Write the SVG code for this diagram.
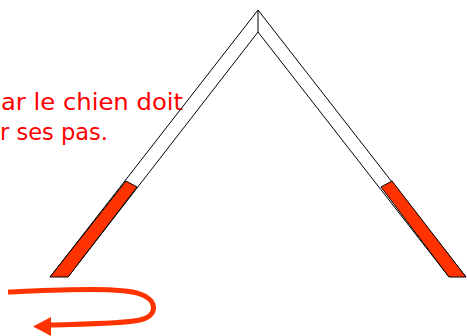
<svg xmlns="http://www.w3.org/2000/svg" width="467" height="336" viewBox="0 0 467 336">
<style>
.ln{fill:none;stroke:#000;stroke-width:1}
.red{fill:#FF3300;stroke:#000;stroke-width:1;stroke-linejoin:round}
.txt{fill:#FF0000;font-family:"Comic Sans MS","DejaVu Sans","Liberation Sans",sans-serif;font-size:23px}
</style>
<rect width="467" height="336" fill="#fff"/>
<g id="text">
<text class="txt" x="1" y="110" textLength="182" lengthAdjust="spacingAndGlyphs">ar le chien doit</text>
<text class="txt" x="0" y="140" textLength="108" lengthAdjust="spacingAndGlyphs">r ses pas.</text>
</g>
<g id="roof">
<path class="ln" d="M50,277 L258,10 L466,277 M68,277 L258,32 L449,277 M258,10 L258,32"/>
</g>
<g id="left-red">
<polygon class="red" points="50,277 68,277 137,187 126,181"/>
</g>
<g id="right-red">
<polygon class="red" points="466,277 449,277 381,187 392,181"/>
</g>
<g id="connectors">
<path d="M8,292 C60,290 120,287 140,294 C158,300 158,316 140,320 C120,324 80,324 50,325" fill="none" stroke="#FF3300" stroke-width="5"/>
<polygon points="33,326.5 51,317 51,336" fill="#FF3300"/>
</g>
</svg>
